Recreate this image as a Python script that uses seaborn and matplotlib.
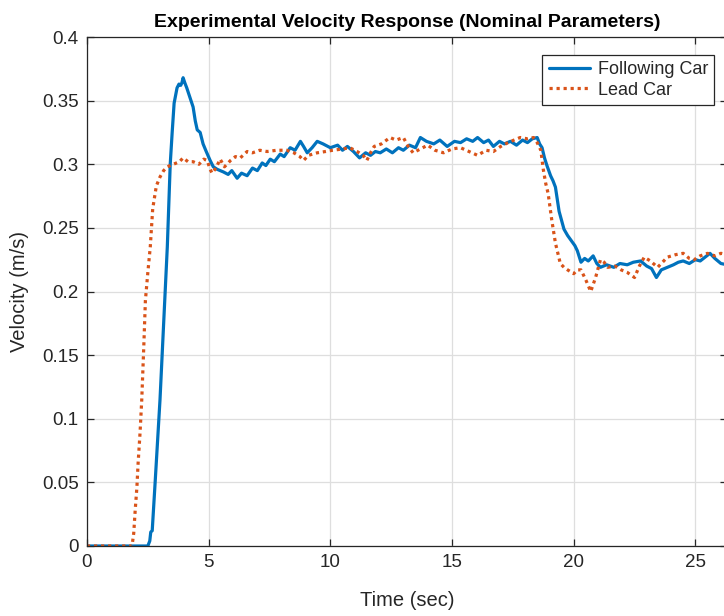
import matplotlib
matplotlib.use("Agg")
import matplotlib.pyplot as plt
import seaborn as sns
import pandas as pd

# ---------------- data ----------------
time_following = [
    0, 2.5, 2.58, 2.62, 2.68, 2.8, 3.0, 3.15, 3.3, 3.42, 3.5, 3.58, 3.7, 3.78, 3.85, 3.9,
    3.95, 4.02, 4.1, 4.24, 4.36, 4.45, 4.53, 4.65, 4.77, 4.9, 5.06, 5.19, 5.35, 5.6, 5.8,
    5.95, 6.17, 6.35, 6.58, 6.8, 7.0, 7.2, 7.35, 7.53, 7.7, 7.94, 8.1, 8.35, 8.55, 8.77,
    8.9, 9.05, 9.25, 9.46, 9.7, 10.0, 10.3, 10.5, 10.7, 10.95, 11.2, 11.45, 11.65, 11.85,
    12.05, 12.3, 12.55, 12.8, 13.0, 13.25, 13.5, 13.7, 13.95, 14.25, 14.5, 14.8, 15.1,
    15.35, 15.6, 15.85, 16.05, 16.3, 16.5, 16.7, 16.95, 17.15, 17.4, 17.65, 17.9, 18.1,
    18.3, 18.5, 18.6, 18.7, 18.8, 18.9, 19.05, 19.15, 19.25, 19.4, 19.5, 19.6, 19.75,
    19.9, 20.05, 20.15, 20.3, 20.45, 20.6, 20.8, 20.95, 21.1, 21.35, 21.65, 21.9, 22.2,
    22.45, 22.75, 23.0, 23.2, 23.4, 23.6, 23.85, 24.1, 24.3, 24.5, 24.75, 25.0, 25.2,
    25.4, 25.6, 25.8, 26.05, 26.3,
]
vel_following = [
    0, 0, 0.004, 0.011, 0.012, 0.05, 0.115, 0.175, 0.235, 0.30, 0.325, 0.348, 0.360, 0.363,
    0.362, 0.364, 0.368, 0.364, 0.360, 0.352, 0.345, 0.334, 0.327, 0.325, 0.316, 0.310,
    0.303, 0.298, 0.296, 0.294, 0.292, 0.295, 0.289, 0.293, 0.291, 0.297, 0.295, 0.301,
    0.299, 0.304, 0.302, 0.308, 0.306, 0.313, 0.311, 0.318, 0.314, 0.309, 0.313, 0.318,
    0.316, 0.313, 0.315, 0.311, 0.314, 0.310, 0.305, 0.309, 0.307, 0.310, 0.309, 0.312,
    0.309, 0.313, 0.311, 0.315, 0.313, 0.321, 0.318, 0.316, 0.319, 0.314, 0.318, 0.317,
    0.320, 0.318, 0.321, 0.317, 0.319, 0.314, 0.318, 0.316, 0.318, 0.315, 0.319, 0.317,
    0.320, 0.321, 0.316, 0.313, 0.305, 0.299, 0.291, 0.287, 0.282, 0.263, 0.256, 0.249,
    0.244, 0.240, 0.236, 0.232, 0.223, 0.226, 0.224, 0.228, 0.222, 0.219, 0.221, 0.219,
    0.222, 0.221, 0.223, 0.224, 0.220, 0.218, 0.211, 0.217, 0.219, 0.221, 0.223, 0.224,
    0.222, 0.225, 0.224, 0.227, 0.230, 0.226, 0.222, 0.221,
]

time_lead = [
    0, 1.85, 1.92, 1.98, 2.05, 2.1, 2.18, 2.25, 2.33, 2.4, 2.5, 2.6, 2.7, 2.85, 3.0, 3.15,
    3.3, 3.55, 3.8, 3.95, 4.15, 4.36, 4.6, 4.8, 4.94, 5.06, 5.14, 5.3, 5.47, 5.65, 5.9,
    6.1, 6.3, 6.58, 6.8, 7.1, 7.4, 7.8, 8.2, 8.5, 8.75, 8.9, 9.1, 9.46, 9.8, 10.1, 10.5,
    10.8, 11.1, 11.35, 11.5, 11.65, 11.8, 12.1, 12.45, 12.7, 13.0, 13.2, 13.4, 13.7, 14.0,
    14.3, 14.65, 15.0, 15.35, 15.7, 16.05, 16.4, 16.7, 17.0, 17.3, 17.55, 17.8, 18.1,
    18.35, 18.5, 18.65, 18.75, 18.85, 18.95, 19.1, 19.25, 19.45, 19.6, 19.75, 20.0, 20.15,
    20.3, 20.5, 20.7, 20.9, 21.1, 21.25, 21.4, 21.7, 21.95, 22.2, 22.5, 22.7, 22.9, 23.15,
    23.45, 23.65, 23.85, 24.2, 24.5, 24.75, 24.95, 25.2, 25.5, 25.8, 26.05, 26.3,
]
vel_lead = [
    0, 0, 0.010, 0.028, 0.046, 0.065, 0.089, 0.115, 0.155, 0.193, 0.215, 0.235, 0.265,
    0.283, 0.290, 0.295, 0.298, 0.300, 0.302, 0.305, 0.302, 0.302, 0.300, 0.304, 0.303,
    0.296, 0.293, 0.297, 0.304, 0.298, 0.303, 0.306, 0.305, 0.310, 0.309, 0.311, 0.310,
    0.311, 0.311, 0.309, 0.306, 0.303, 0.307, 0.309, 0.310, 0.311, 0.312, 0.313, 0.310,
    0.307, 0.303, 0.309, 0.314, 0.316, 0.321, 0.319, 0.321, 0.314, 0.309, 0.312, 0.315,
    0.311, 0.309, 0.312, 0.313, 0.310, 0.307, 0.311, 0.310, 0.314, 0.317, 0.319, 0.321,
    0.320, 0.321, 0.317, 0.311, 0.296, 0.285, 0.277, 0.256, 0.238, 0.222, 0.219, 0.217,
    0.214, 0.217, 0.217, 0.209, 0.200, 0.211, 0.225, 0.223, 0.219, 0.220, 0.217, 0.215,
    0.211, 0.220, 0.227, 0.224, 0.219, 0.223, 0.227, 0.229, 0.230, 0.226, 0.225, 0.228,
    0.230, 0.228, 0.230, 0.229,
]

series_names = ["Following Car", "Lead Car"]
x_ticks = [0, 5, 10, 15, 20, 25]
y_ticks = [0, 0.05, 0.1, 0.15, 0.2, 0.25, 0.3, 0.35, 0.4]
y_tick_labels = ["0", "0.05", "0.1", "0.15", "0.2", "0.25", "0.3", "0.35", "0.4"]

df_follow = pd.DataFrame({"Time": time_following, "Velocity": vel_following})
df_lead = pd.DataFrame({"Time": time_lead, "Velocity": vel_lead})

# ---------------- style ----------------
sns.set_style("white")
plt.rcParams["font.family"] = ["Liberation Sans", "DejaVu Sans"]

fig = plt.figure(figsize=(7.24, 6.16), dpi=100)
ax = fig.add_axes([87 / 724, 70 / 616, 640 / 724, 509 / 616])

blue = "#0072BD"
orange = "#D95319"

sns.lineplot(data=df_follow, x="Time", y="Velocity", ax=ax, color=blue,
             linewidth=2.3, estimator=None, sort=False, label=series_names[0])
sns.lineplot(data=df_lead, x="Time", y="Velocity", ax=ax, color=orange,
             linewidth=2.3, linestyle=(0, (1, 1.2)), estimator=None, sort=False,
             label=series_names[1])

ax.set_xlim(0, 26.3)
ax.set_ylim(0, 0.4)
ax.set_xticks(x_ticks)
ax.set_yticks(y_ticks)
ax.set_yticklabels(y_tick_labels)

ax.grid(True, color="#dedede", linewidth=0.9)
ax.set_axisbelow(True)
for s in ax.spines.values():
    s.set_color("#262626")
    s.set_linewidth(0.9)
ax.tick_params(direction="in", length=5, width=0.9, color="#262626",
               labelcolor="#262626", labelsize=13.5, top=True, right=True,
               bottom=True, left=True, pad=6)

ax.set_title("Experimental Velocity Response (Nominal Parameters)",
             fontsize=14, fontweight="bold", color="black", pad=7)
ax.set_xlabel("Time (sec)", fontsize=14.5, color="#262626", labelpad=14)
ax.set_ylabel("Velocity (m/s)", fontsize=14.5, color="#262626", labelpad=9)

leg = ax.legend(loc="upper right", bbox_to_anchor=(0.98, 0.965), borderaxespad=0,
                fontsize=13, frameon=True, fancybox=False, handlelength=2.3,
                handletextpad=0.4, borderpad=0.35, labelspacing=0.2)
leg.get_frame().set_edgecolor("#262626")
leg.get_frame().set_linewidth(0.9)
leg.get_frame().set_alpha(1)

fig.savefig("out.png", dpi=100)
